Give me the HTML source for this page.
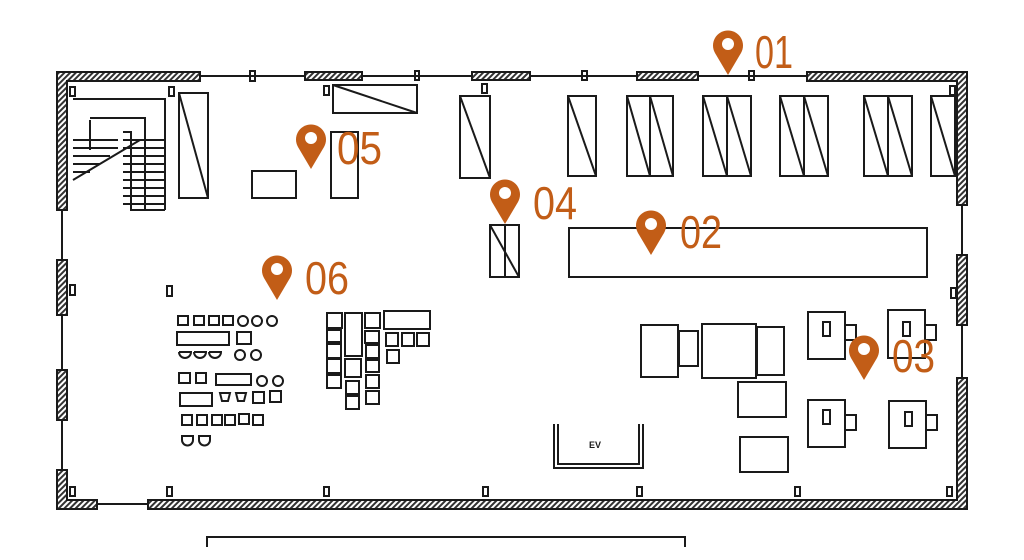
<!DOCTYPE html>
<html><head><style>
html,body{margin:0;padding:0;background:#fff;width:1024px;height:560px;overflow:hidden}
svg{display:block}
.l{fill:none;stroke:#1a1a1a;stroke-width:2}
.w{fill:url(#h);stroke:#1a1a1a;stroke-width:2}
.n{font-family:"Liberation Sans Narrow","Liberation Sans",sans-serif;font-size:46px;fill:#c25d17}
</style></head><body>
<svg width="1024" height="560" viewBox="0 0 1024 560">
<defs>
<pattern id="h" width="4" height="4" patternUnits="userSpaceOnUse" patternTransform="rotate(45)">
<rect width="4" height="4" fill="#fff"/><rect width="2" height="4" fill="#333"/></pattern>
<g id="pin"><path d="M0,30 L-13,8 A15,15 0 1 1 13,8 Z" fill="#c25d17"/><circle cx="0" cy="-1" r="6" fill="#fff"/></g>
</defs>
<g class="l">
<line x1="200" y1="76" x2="305" y2="76"/><line x1="362" y1="76" x2="472" y2="76"/><line x1="530" y1="76" x2="637" y2="76"/><line x1="698" y1="76" x2="807" y2="76"/>
<line x1="62" y1="210" x2="62" y2="260"/><line x1="62" y1="315" x2="62" y2="370"/><line x1="62" y1="420" x2="62" y2="470"/>
<line x1="97" y1="504" x2="148" y2="504"/>
<line x1="962" y1="205" x2="962" y2="255"/><line x1="962" y1="325" x2="962" y2="378"/>
</g>
<g class="w">
<path d="M57,72 H200 V81 H67 V210 H57 Z"/>
<rect x="305" y="72" width="57" height="8"/><rect x="472" y="72" width="58" height="8"/><rect x="637" y="72" width="61" height="8"/>
<path d="M807,72 H967 V205 H957 V81 H807 Z"/>
<rect x="57" y="260" width="10" height="55"/><rect x="57" y="370" width="10" height="50"/>
<path d="M57,470 H67 V500 H97 V509 H57 Z"/>
<path d="M148,500 H957 V378 H967 V509 H148 Z"/>
<rect x="957" y="255" width="10" height="70"/>
</g>
<g class="l">
<rect x="70" y="87" width="5" height="9"/><rect x="169" y="87" width="5" height="9"/><rect x="250" y="71" width="5" height="10"/><rect x="324" y="86" width="5" height="9"/>
<rect x="415" y="71" width="4" height="9"/><rect x="482" y="84" width="5" height="9"/><rect x="582" y="71" width="5" height="9"/><rect x="749" y="71" width="5" height="9"/>
<rect x="950" y="86" width="5" height="9"/><rect x="70" y="285" width="5" height="10"/><rect x="951" y="288" width="5" height="10"/><rect x="167" y="286" width="5" height="10"/>
<rect x="167" y="487" width="5" height="9"/><rect x="324" y="487" width="5" height="9"/><rect x="483" y="487" width="5" height="9"/><rect x="637" y="487" width="5" height="9"/><rect x="795" y="487" width="5" height="9"/><rect x="947" y="487" width="5" height="9"/><rect x="70" y="487" width="5" height="9"/>
<path d="M73,99 H165 V210 M73,180 L140,140 M90,120 V150 M90,118 H145 V210"/>
<path d="M123,132 H131 V210 H165"/>
<path d="M73,140 H118 M73,148 H118 M73,156 H110 M73,164 H100 M73,172 H90 M123,140 H165 M123,148 H165 M123,156 H165 M123,164 H165 M123,172 H165 M123,180 H165 M123,188 H165 M123,196 H165 M123,204 H165"/>
<rect x="179" y="93" width="29" height="105"/><line x1="179" y1="93" x2="208" y2="198"/>
<rect x="333" y="85" width="84" height="28"/><line x1="333" y1="85" x2="417" y2="113"/>
<rect x="252" y="171" width="44" height="27"/><rect x="331" y="132" width="27" height="66"/>
<rect x="460" y="96" width="30" height="82"/><line x1="460" y1="96" x2="490" y2="178"/>
<rect x="568" y="96" width="28" height="80"/><line x1="568" y1="96" x2="596" y2="176"/>
<rect x="627" y="96" width="46" height="80"/><line x1="650" y1="96" x2="650" y2="176"/><line x1="627" y1="96" x2="650" y2="176"/><line x1="650" y1="96" x2="673" y2="176"/>
<rect x="703" y="96" width="48" height="80"/><line x1="727" y1="96" x2="727" y2="176"/><line x1="703" y1="96" x2="727" y2="176"/><line x1="727" y1="96" x2="751" y2="176"/>
<rect x="780" y="96" width="48" height="80"/><line x1="804" y1="96" x2="804" y2="176"/><line x1="780" y1="96" x2="804" y2="176"/><line x1="804" y1="96" x2="828" y2="176"/>
<rect x="864" y="96" width="48" height="80"/><line x1="888" y1="96" x2="888" y2="176"/><line x1="864" y1="96" x2="888" y2="176"/><line x1="888" y1="96" x2="912" y2="176"/>
<rect x="931" y="96" width="24" height="80"/><line x1="931" y1="96" x2="955" y2="176"/>
<rect x="490" y="225" width="29" height="52"/><line x1="505" y1="225" x2="505" y2="277"/><line x1="490" y1="225" x2="519" y2="277"/>
<rect x="569" y="228" width="358" height="49"/>
<rect x="641" y="325" width="37" height="52"/><rect x="679" y="331" width="19" height="35"/><rect x="702" y="324" width="54" height="54"/><rect x="757" y="327" width="27" height="48"/>
<rect x="738" y="382" width="48" height="35"/><rect x="740" y="437" width="48" height="35"/>
<rect x="808" y="312" width="37" height="47"/><rect x="845" y="325" width="11" height="15"/><rect x="823" y="322" width="7" height="14"/>
<rect x="888" y="310" width="37" height="48"/><rect x="925" y="325" width="11" height="15"/><rect x="903" y="322" width="7" height="14"/>
<rect x="808" y="400" width="37" height="47"/><rect x="845" y="415" width="11" height="15"/><rect x="823" y="410" width="7" height="14"/>
<rect x="889" y="401" width="37" height="47"/><rect x="926" y="415" width="11" height="15"/><rect x="905" y="412" width="7" height="14"/>
<path d="M554,424 V468 H643 V424 M558,424 V464 H639 V424"/>
<rect x="327" y="313" width="15" height="15"/><rect x="345" y="313" width="17" height="43"/><rect x="365" y="313" width="15" height="15"/><rect x="384" y="311" width="46" height="18"/>
<rect x="327" y="330" width="14" height="12"/><rect x="365" y="331" width="14" height="12"/><rect x="386" y="333" width="12" height="13"/><rect x="402" y="333" width="12" height="13"/><rect x="417" y="333" width="12" height="13"/><rect x="387" y="350" width="12" height="13"/>
<rect x="327" y="344" width="14" height="14"/><rect x="366" y="345" width="13" height="13"/><rect x="327" y="359" width="14" height="14"/><rect x="345" y="359" width="16" height="18"/><rect x="366" y="360" width="13" height="12"/>
<rect x="327" y="375" width="14" height="13"/><rect x="366" y="375" width="13" height="13"/><rect x="346" y="381" width="13" height="13"/><rect x="366" y="391" width="13" height="13"/><rect x="346" y="396" width="13" height="13"/>
<rect x="178" y="316" width="10" height="9"/><rect x="194" y="316" width="10" height="9"/><rect x="209" y="316" width="10" height="9"/><rect x="223" y="316" width="10" height="9"/><circle cx="243" cy="321" r="5"/><circle cx="257" cy="321" r="5"/><circle cx="272" cy="321" r="5"/>
<rect x="177" y="332" width="52" height="13"/><rect x="237" y="332" width="14" height="12"/>
<path d="M179,352 h12 a6,6 0 0 1 -12,0 M194,352 h12 a6,6 0 0 1 -12,0 M209,352 h12 a6,6 0 0 1 -12,0"/><circle cx="240" cy="355" r="5"/><circle cx="256" cy="355" r="5"/>
<rect x="179" y="373" width="11" height="10"/><rect x="196" y="373" width="10" height="10"/><rect x="216" y="374" width="35" height="11"/><circle cx="262" cy="381" r="5"/><circle cx="278" cy="381" r="5"/>
<rect x="180" y="393" width="32" height="13"/><path d="M220,393 h10 l-2,8 h-6 z M236,393 h10 l-2,8 h-6 z"/><rect x="253" y="392" width="11" height="11"/><rect x="270" y="391" width="11" height="11"/>
<rect x="182" y="415" width="10" height="10"/><rect x="197" y="415" width="10" height="10"/><rect x="212" y="415" width="10" height="10"/><rect x="225" y="415" width="10" height="10"/><rect x="239" y="414" width="10" height="10"/><rect x="253" y="415" width="10" height="10"/>
<path d="M182,436 h11 v4 a5,5 0 0 1 -11,0 z M199,436 h11 v4 a5,5 0 0 1 -11,0 z"/>
<path d="M207,547 V537 H685 V547"/>
</g>
<text x="589" y="448" font-family="Liberation Sans,sans-serif" font-size="9" font-weight="bold" fill="#1a1a1a">EV</text>
<use href="#pin" x="728" y="45"/><text class="n" x="755" y="68" textLength="38" lengthAdjust="spacingAndGlyphs">01</text>
<use href="#pin" x="651" y="225"/><text class="n" x="680" y="248" textLength="42" lengthAdjust="spacingAndGlyphs">02</text>
<use href="#pin" x="864" y="350"/><text class="n" x="892" y="372" textLength="43" lengthAdjust="spacingAndGlyphs">03</text>
<use href="#pin" x="505" y="194"/><text class="n" x="533" y="219" textLength="44" lengthAdjust="spacingAndGlyphs">04</text>
<use href="#pin" x="311" y="139"/><text class="n" x="337" y="164" textLength="45" lengthAdjust="spacingAndGlyphs">05</text>
<use href="#pin" x="277" y="270"/><text class="n" x="305" y="294" textLength="44" lengthAdjust="spacingAndGlyphs">06</text>
</svg>
</body></html>
